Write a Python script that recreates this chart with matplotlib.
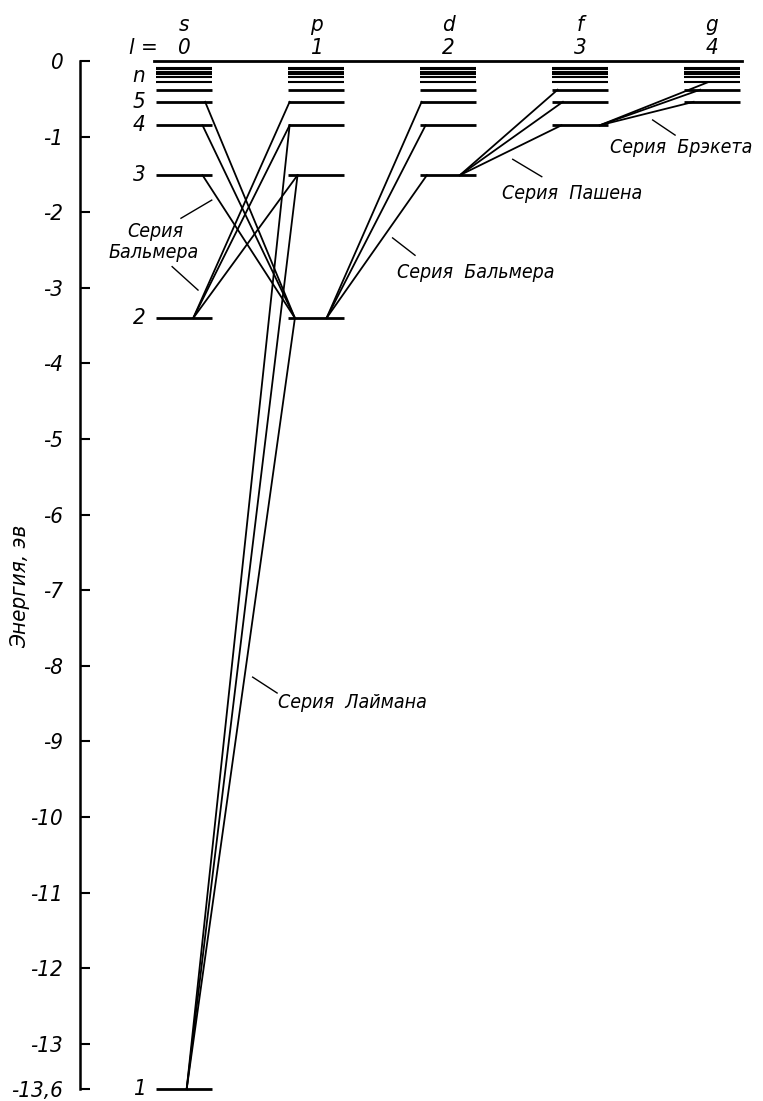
# Hydrogen energy level diagram (Grotrian diagram) with spectral series
import matplotlib.pyplot as plt

plt.rcParams['font.family'] = ['DejaVu Sans']
plt.rcParams['font.stretch'] = 'condensed'

# level energies, eV
level_n = [1, 2, 3, 4, 5, 6, 7, 8, 9, 10, 11, 12]
level_E = [-13.6, -3.4, -1.51, -0.85, -0.54, -0.38, -0.28, -0.21, -0.17, -0.14, -0.11, -0.09]

# columns: orbital letter, l value, lowest n present
col_letters = ['s', 'p', 'd', 'f', 'g']
col_l = [0, 1, 2, 3, 4]
col_nmin = [1, 2, 3, 4, 5]

# y axis ticks
tick_vals = [0, -1, -2, -3, -4, -5, -6, -7, -8, -9, -10, -11, -12, -13, -13.6]
tick_labels = ['0', '-1', '-2', '-3', '-4', '-5', '-6', '-7', '-8', '-9',
               '-10', '-11', '-12', '-13', '-13,6']

# labelled levels at the left of the s column
row_labels = ['1', '2', '3', '4', '5', 'n']
row_label_E = [-13.6, -3.4, -1.51, -0.85, -0.54, -0.2]

# transitions: (lower l, lower n, upper l, upper n)
lyman = [(0, 1, 1, 2), (0, 1, 1, 3), (0, 1, 1, 4)]
balmer_s = [(1, 2, 0, 3), (1, 2, 0, 4), (1, 2, 0, 5)]
balmer_p = [(0, 2, 1, 3), (0, 2, 1, 4), (0, 2, 1, 5)]
balmer_d = [(1, 2, 2, 3), (1, 2, 2, 4), (1, 2, 2, 5)]
paschen = [(2, 3, 3, 4), (2, 3, 3, 5), (2, 3, 3, 6)]
brackett = [(3, 4, 4, 5), (3, 4, 4, 6), (3, 4, 4, 7)]

# where each line touches its levels (offset from column centre)
lyman_x = [(0.02, 0.84), (0.02, 0.86), (0.02, 0.80)]
balmer_s_x = [(0.84, 0.14), (0.84, 0.14), (0.84, 0.16)]
balmer_p_x = [(0.07, 0.86), (0.07, 0.80), (0.07, 0.80)]
balmer_d_x = [(1.08, 1.84), (1.08, 1.83), (1.08, 1.80)]
paschen_x = [(2.09, 2.86), (2.09, 2.87), (2.09, 2.83)]
brackett_x = [(3.15, 3.86), (3.15, 3.91), (3.15, 3.97)]

half_w = 0.215
E = dict(zip(level_n, level_E))

fig = plt.figure(figsize=(7.63, 11.01), dpi=100)
ax = fig.add_axes([0, 0, 1, 1])
ax.set_xlim(-1.394, 4.386)
ax.set_ylim(-13.757, 0.807)

# energy levels
for c, nmin in zip(col_l, col_nmin):
    for n in level_n:
        if n >= nmin:
            lw = 2.0 if n <= 6 else 1.5
            ax.plot([c - half_w, c + half_w], [E[n], E[n]], color='k', lw=lw,
                    solid_capstyle='butt')
ax.plot([-0.23, 4.23], [0, 0], color='k', lw=2.0)

# transitions
for trans, xs in [(lyman, lyman_x), (balmer_s, balmer_s_x), (balmer_p, balmer_p_x),
                  (balmer_d, balmer_d_x), (paschen, paschen_x), (brackett, brackett_x)]:
    for (l1, n1, l2, n2), (x1, x2) in zip(trans, xs):
        ax.plot([x1, x2], [E[n1], E[n2]], color='k', lw=1.3)

# column headers
tfont = dict(style='italic', fontsize=16, ha='center', va='center')
for c, letter in zip(col_l, col_letters):
    ax.text(c, 0.48, letter, **tfont)
    ax.text(c, 0.17, str(c), **tfont)
ax.text(-0.31, 0.17, 'l =', **tfont)

for lab, e in zip(row_labels, row_label_E):
    ax.text(-0.34, e, lab, **tfont)

# series labels with leaders
afont = dict(style='italic', fontsize=14, va='center')
ax.text(-0.22, -2.26, 'Серия', ha='center', **afont)
ax.text(-0.23, -2.53, 'Бальмера', ha='center', **afont)
ax.plot([-0.023, 0.21], [-2.08, -1.84], color='k', lw=1.0)
ax.plot([-0.09, 0.106], [-2.72, -3.03], color='k', lw=1.0)

ax.text(1.61, -2.80, 'Серия  Бальмера', ha='left', **afont)
ax.plot([1.58, 1.75], [-2.34, -2.57], color='k', lw=1.0)

ax.text(2.41, -1.75, 'Серия  Пашена', ha='left', **afont)
ax.plot([2.49, 2.71], [-1.30, -1.53], color='k', lw=1.0)

ax.text(3.23, -1.14, 'Серия  Брэкета', ha='left', **afont)
ax.plot([3.55, 3.72], [-0.78, -0.98], color='k', lw=1.0)

ax.text(0.71, -8.48, 'Серия  Лаймана', ha='left', **afont)
ax.plot([0.52, 0.705], [-8.15, -8.36], color='k', lw=1.0)

# energy axis
for s in ['top', 'right', 'bottom']:
    ax.spines[s].set_visible(False)
ax.spines['left'].set_position(('data', -0.788))
ax.spines['left'].set_bounds(-13.6, 0)
ax.spines['left'].set_linewidth(1.8)
ax.set_xticks([])
ax.set_yticks(tick_vals)
ax.set_yticklabels(tick_labels, fontsize=16, style='italic')
ax.tick_params(axis='y', direction='in', length=7, width=1.5, pad=12)

ax.text(-1.24, -6.95, 'Энергия, эв', rotation=90, style='italic', fontsize=16,
        ha='center', va='center')

fig.savefig('out.png', dpi=100)
